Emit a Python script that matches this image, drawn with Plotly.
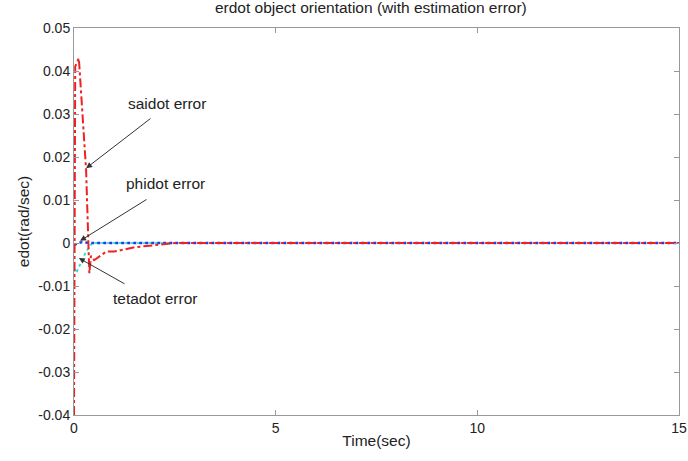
import plotly.graph_objects as go

# saidot error (red dash-dot)
sai_t = [0.0, 0.03, 0.12, 0.30, 0.38, 0.42, 0.50, 0.80, 1.00, 1.50, 2.50, 15.0]
sai_e = [-0.040, 0.041, 0.043, 0.017, -0.007, -0.003, -0.004, -0.002, -0.002, -0.001, 0.0, 0.0]
# phidot error (blue dotted)
phi_t = [0.0, 0.10, 0.20, 0.40, 15.0]
phi_e = [-0.0005, 0.0, 0.0002, 0.0, 0.0]
# tetadot error (cyan dotted)
teta_t = [0.0, 0.05, 0.10, 0.20, 0.30, 0.45, 15.0]
teta_e = [-0.006, -0.007, -0.006, -0.004, -0.002, 0.0, 0.0]

x_ticks = [0, 5, 10, 15]
y_ticks = [0.05, 0.04, 0.03, 0.02, 0.01, 0, -0.01, -0.02, -0.03, -0.04]
y_labels = ["0.05", "0.04", "0.03", "0.02", "0.01", "0", "-0.01", "-0.02", "-0.03", "-0.04"]

fig = go.Figure()
fig.add_trace(go.Scatter(x=teta_t, y=teta_e, mode="lines",
                         line=dict(color="#33dddd", dash="dot", width=2)))
fig.add_trace(go.Scatter(x=phi_t, y=phi_e, mode="lines",
                         line=dict(color="#1f3fe0", dash="dot", width=2.5)))
fig.add_trace(go.Scatter(x=sai_t, y=sai_e, mode="lines",
                         line=dict(color="#ee2222", dash="dashdot", width=2)))

font = dict(family="Liberation Sans, Arial, sans-serif", color="#222222")

X0, XS, Y0, YS = 74, 606 / 15, 242.4, 4289
notes = [
    ("saidot error", 0.30, 0.0174, 167, 103, 152, 117),
    ("phidot error", 0.15, 0.0005, 166, 183, 148, 198),
    ("tetadot error", 0.12, -0.0035, 155, 298, 126, 284),
]
for text, ax_, ay_, tx, ty, sx, sy in notes:
    fig.add_annotation(x=ax_, y=ay_, xref="x", yref="y", text="",
                       showarrow=True, arrowhead=2, arrowsize=1.2, arrowwidth=1,
                       arrowcolor="#333333", axref="pixel", ayref="pixel",
                       ax=sx - (X0 + ax_ * XS), ay=sy - (Y0 - ay_ * YS))
    fig.add_annotation(x=(tx - X0) / XS, y=(Y0 - ty) / YS, xref="x", yref="y",
                       text=text, showarrow=False, font=dict(size=15.5, **font))

fig.update_layout(
    width=688, height=461,
    margin=dict(l=74, r=1, t=28, b=46),
    paper_bgcolor="white", plot_bgcolor="white",
    showlegend=False,
    title=dict(text="erdot object orientation (with estimation error)",
               x=0.539, xanchor="center", y=0.995, yanchor="top",
               font=dict(size=15.5, **font)),
    font=dict(size=14, **font),
)
fig.update_xaxes(range=[0, 15], tickvals=x_ticks, ticks="inside", ticklen=5,
                 ticklabeloverflow="allow",
                 showgrid=False, zeroline=False, showline=True, linecolor="#999999",
                 mirror="ticks", tickcolor="#999999",
                 title=dict(text="Time(sec)", standoff=0, font=dict(size=15.5)))
fig.update_yaxes(range=[-0.04, 0.05], tickvals=y_ticks, ticktext=y_labels,
                 ticks="inside", ticklen=5,
                 showgrid=False, zeroline=False, showline=True, linecolor="#999999",
                 mirror="ticks", tickcolor="#999999",
                 title=dict(text="edot(rad/sec)", standoff=4, font=dict(size=15.5)))

fig.write_html("out.html", config={"displayModeBar": False},
               post_script="document.body.style.margin='0';document.body.style.overflow='hidden';")
